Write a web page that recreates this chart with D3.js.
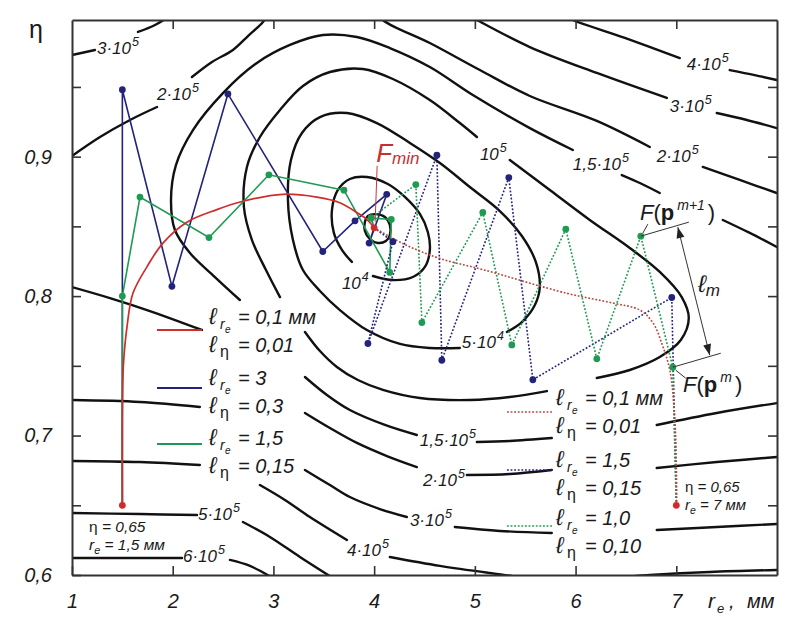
<!DOCTYPE html>
<html><head><meta charset="utf-8">
<script src="https://cdn.jsdelivr.net/npm/d3@7"></script>
<style>
body{margin:0;background:#fff}
svg{display:block}
text{font-family:"Liberation Sans",Arial,sans-serif;fill:#1a1a1a}
</style>
</head><body>
<svg id="c" width="800" height="630"></svg>
<script>
// ---------------- DATA ----------------
const xTickValues = [1,2,3,4,5,6,7];
const yTickValues = [0.6,0.65,0.7,0.75,0.8,0.85,0.9,0.95];
const yLabelled = [0.6,0.7,0.8,0.9];

// contour lines (r_e, eta) – segments, gaps are where labels / legend sit
const c5e3 = [[[3.908,0.8531],[3.938,0.8574],[4.017,0.8588],[4.107,0.8567],[4.156,0.8510],[4.156,0.8438],[4.117,0.8395],[4.037,0.8381],[3.958,0.8409],[3.908,0.8467]]];
const c1e4 = [[[3.988,0.8144],[4.186,0.8115],[4.385,0.8137],[4.504,0.8209],[4.553,0.8331],[4.533,0.8460],[4.454,0.8589],[4.305,0.8711],[4.136,0.8804],[3.928,0.8854],[3.759,0.8840],[3.640,0.8761],[3.581,0.8617],[3.600,0.8453],[3.680,0.8331],[3.779,0.8245]]];
const c5e4 = [[[5.318,0.7743],[5.467,0.7814],[5.596,0.7936],[5.645,0.8065],[5.605,0.8245],[5.467,0.8431],[5.248,0.8610],[4.950,0.8782],[4.653,0.8954],[4.355,0.9098],[4.027,0.9241],[3.730,0.9313],[3.462,0.9284],[3.283,0.9170],[3.174,0.8976],[3.144,0.8689],[3.194,0.8402],[3.293,0.8187],[3.462,0.8037],[3.660,0.7900],[3.928,0.7757],[4.256,0.7657],[4.553,0.7628],[4.851,0.7628]]];
const c1e5 = [
  [[5.347,0.8976],[5.744,0.8761],[6.141,0.8546],[6.538,0.8345],[6.836,0.8173],[7.054,0.7993],[7.124,0.7843],[7.045,0.7685],[6.836,0.7563],[6.538,0.7470],[6.211,0.7413]],
  [[5.715,0.7319],[5.347,0.7276],[4.950,0.7255],[4.454,0.7269],[4.087,0.7327],[3.839,0.7398],[3.630,0.7492],[3.462,0.7606],[3.313,0.7743]],
  [[3.065,0.7993],[2.926,0.8187],[2.787,0.8402],[2.707,0.8639],[2.737,0.8926],[2.866,0.9141],[3.065,0.9335],[3.293,0.9507],[3.561,0.9607],[3.888,0.9629],[4.186,0.9557],[4.553,0.9406],[4.851,0.9241],[5.020,0.9141]]
];
const c15e5 = [
  [[7.462,0.8546],[7.730,0.8453],[7.998,0.8352]],
  [[6.459,0.8868],[6.638,0.8811],[6.836,0.8739]],
  [[5.973,0.9048],[5.546,0.9205],[4.980,0.9442],[4.553,0.9643],[4.156,0.9779],[3.829,0.9858],[3.491,0.9872],[3.164,0.9801],[2.836,0.9672],[2.499,0.9456],[2.201,0.9191],[2.032,0.8940],[1.983,0.8689],[2.022,0.8474],[2.171,0.8309],[2.419,0.8137],[2.667,0.7972]],
  [[3.313,0.7420],[3.531,0.7291],[3.759,0.7183],[4.107,0.7076],[4.424,0.7004]],
  [[5.020,0.6954],[5.347,0.6961],[5.764,0.6982]],
  [[6.806,0.7076],[7.402,0.7162],[7.998,0.7233]]
];
const c2e5 = [
  [[1.0,0.8065],[1.377,0.7986],[1.774,0.7893],[2.290,0.7757]],
  [[3.313,0.7162],[3.561,0.7054],[3.829,0.6947],[4.127,0.6853],[4.424,0.6774]],
  [[4.921,0.6717],[5.347,0.6724],[5.764,0.6753]],
  [[6.806,0.6767],[7.402,0.6810],[7.998,0.6846]],
  [[1.0,0.9005],[1.278,0.9141],[1.576,0.9263],[1.844,0.9356]],
  [[2.191,0.9571],[2.390,0.9679],[2.598,0.9765],[2.747,0.9865],[2.896,0.9966],[2.945,1.0023]],
  [[4.037,1.0037],[4.087,0.998],[4.553,0.9815],[5.050,0.9621],[5.546,0.9435],[6.211,0.9256],[6.737,0.9069]],
  [[7.263,0.8926],[7.630,0.8833],[7.998,0.8739]]
];
const c3e5 = [
  [[1.0,0.9729],[1.228,0.9765]],
  [[1.655,0.9894],[1.824,0.9944],[1.973,1.0009]],
  [[4.911,1.0023],[5.020,0.998],[5.546,0.9786],[6.211,0.96],[6.906,0.9421]],
  [[7.402,0.9313],[7.700,0.9263],[7.998,0.9205]],
  [[1.0,0.7255],[1.675,0.7241],[2.270,0.7205]],
  [[3.313,0.6753],[3.561,0.6645],[3.759,0.6559],[4.057,0.6473],[4.325,0.6416]],
  [[4.801,0.6344],[5.248,0.6316],[5.764,0.6301]],
  [[6.806,0.6323],[7.402,0.6344],[7.998,0.6366]]
];
const c4e5 = [
  [[5.903,1.0009],[5.973,0.998],[6.489,0.9851],[7.035,0.9707]],
  [[7.531,0.9621],[7.779,0.9585],[7.998,0.955]],
  [[1.0,0.6818],[1.675,0.6810],[2.270,0.6789]],
  [[2.866,0.6645],[3.114,0.6538],[3.362,0.6416],[3.730,0.6251]],
  [[4.156,0.6129],[4.653,0.6065],[5.149,0.6014],[5.546,0.5978],[6.042,0.5964],[6.737,0.6],[7.333,0.6022],[7.998,0.6036]]
];
const c5e5 = [
  [[1.0,0.6445],[1.675,0.6437],[2.241,0.6430]],
  [[2.697,0.6380],[2.965,0.6273],[3.263,0.6129],[3.591,0.5978]]
];
const c6e5 = [
  [[1.0,0.6122],[2.092,0.6122]],
  [[2.568,0.6108],[2.767,0.6065],[2.995,0.5978]]
];
const contourSets = [
  {segs:c5e3, closed:true},{segs:c1e4},{segs:c5e4},{segs:c1e5},{segs:c15e5},
  {segs:c2e5},{segs:c3e5},{segs:c4e5},{segs:c5e5},{segs:c6e5}
];

// contour labels: mantissa, exponent, anchor (r_e, eta)
const contourLabels = [
  ["3·10","5",1.248,0.9736],["2·10","5",1.844,0.9406],["10","5",5.050,0.8976],
  ["1,5·10","5",5.973,0.8904],["2·10","5",6.806,0.8962],["3·10","5",6.935,0.9320],
  ["4·10","5",7.104,0.9621],["10","4",3.680,0.8051],["5·10","4",4.871,0.7628],
  ["1,5·10","5",4.454,0.6925],["2·10","5",4.484,0.6638],["3·10","5",4.355,0.6351],
  ["4·10","5",3.730,0.6136],["5·10","5",2.251,0.6394],["6·10","5",2.102,0.6093]
];

// optimisation trajectories (r_e, eta)
const fMin = [4.0,0.849];
const startLeft = [1.5,0.65];
const startRight = [7.0,0.65];
const redSolid = [[1.5,0.65],[1.5,0.72],[1.51,0.75],[1.546,0.778],[1.605,0.802],[1.744,0.821],[1.903,0.838],[2.141,0.853],[2.438,0.862],[2.696,0.868],[3.093,0.873],[3.431,0.871],[3.659,0.867],[3.827,0.860],[3.927,0.855],[4.0,0.849]];
const blueSolid = [[1.5,0.65],[1.5,0.948],[1.992,0.807],[2.548,0.945],[3.49,0.832],[3.81,0.854],[4.125,0.873],[3.95,0.838],[4.0,0.849]];
const greenSolid = [[1.5,0.65],[1.5,0.80],[1.675,0.871],[2.36,0.842],[2.955,0.887],[3.70,0.876],[4.155,0.817],[4.17,0.855],[3.97,0.856],[4.0,0.849]];
const redDotted = [[7.005,0.650],[6.995,0.697],[6.975,0.723],[6.936,0.747],[6.866,0.764],[6.767,0.781],[6.638,0.790],[6.370,0.795],[5.913,0.802],[5.079,0.819],[4.653,0.827],[4.305,0.837],[4.0,0.849]];
const blueDotted = [[7.0,0.65],[6.955,0.799],[5.576,0.740],[5.337,0.885],[4.672,0.754],[4.623,0.901],[3.938,0.766],[4.186,0.839],[4.0,0.849]];
const greenDotted = [[7.0,0.65],[6.965,0.749],[6.648,0.843],[6.211,0.755],[5.903,0.848],[5.367,0.765],[5.079,0.860],[4.474,0.781],[4.414,0.880],[3.97,0.856],[4.0,0.849]];

// legend entries
const legendLeft = [
  {col:"red", dash:false, lr:"0,1 мм", le:"0,01"},
  {col:"blue", dash:false, lr:"3", le:"0,3"},
  {col:"green", dash:false, lr:"1,5", le:"0,15"}
];
const legendRight = [
  {col:"redd", dash:true, lr:"0,1 мм", le:"0,01"},
  {col:"blue", dash:true, lr:"1,5", le:"0,15"},
  {col:"green", dash:true, lr:"1,0", le:"0,10"}
];

// ---------------- DRAW ----------------
const COL = {red:"#cc2e2b", redd:"#b8443c", blue:"#23237c", green:"#1e9a52"};
const svg = d3.select("#c");
const x = d3.scaleLinear().domain([1,8]).range([72,777]);
const y = d3.scaleLinear().domain([0.6,0.998]).range([575,20]);

svg.append("defs").append("clipPath").attr("id","clip")
  .append("rect").attr("x",72).attr("y",20).attr("width",705).attr("height",555);

const lineSmooth = d3.line().x(d=>x(d[0])).y(d=>y(d[1])).curve(d3.curveCatmullRom.alpha(0.5));
const lineClosed = d3.line().x(d=>x(d[0])).y(d=>y(d[1])).curve(d3.curveCatmullRomClosed.alpha(0.5));
const lineStraight = d3.line().x(d=>x(d[0])).y(d=>y(d[1]));

// contours
const cg = svg.append("g").attr("clip-path","url(#clip)");
contourSets.forEach(c=>{
  c.segs.forEach(s=>{
    cg.append("path").attr("d",(c.closed?lineClosed:lineSmooth)(s))
      .attr("fill","none").attr("stroke","#111").attr("stroke-width",2.4)
      .attr("stroke-linecap","round");
  });
});

// contour labels
const lg = svg.append("g");
contourLabels.forEach(([m,e,r,h])=>{
  const t = lg.append("text").attr("x",x(r)).attr("y",y(h))
    .attr("font-size",17).attr("font-style","italic");
  t.append("tspan").text(m);
  t.append("tspan").attr("font-size",12.5).attr("dy",-8).attr("dx",1).text(e);
});

// axes / frame
function styleAxis(g){
  g.select(".domain").attr("stroke","#333").attr("stroke-width",2);
  g.selectAll(".tick line").attr("stroke","#333").attr("stroke-width",1.6);
  g.selectAll(".tick text").attr("font-size",20).attr("font-style","italic")
    .attr("fill","#1a1a1a").attr("font-family","'Liberation Sans',Arial,sans-serif");
}
svg.append("g").attr("transform","translate(0,575)")
  .call(d3.axisBottom(x).tickValues(xTickValues).tickSizeInner(-9).tickSizeOuter(0).tickPadding(19).tickFormat(d=>d))
  .call(styleAxis);
svg.append("g").attr("transform","translate(0,20)")
  .call(d3.axisTop(x).tickValues(xTickValues.slice(1)).tickSizeInner(-9).tickSizeOuter(0).tickFormat(""))
  .call(styleAxis);
svg.append("g").attr("transform","translate(72,0)")
  .call(d3.axisLeft(y).tickValues(yTickValues).tickSizeInner(-9).tickSizeOuter(0).tickPadding(20)
    .tickFormat(d=>yLabelled.some(v=>Math.abs(v-d)<1e-9)?d.toFixed(1).replace(".",","):""))
  .call(styleAxis);
svg.append("g").attr("transform","translate(777,0)")
  .call(d3.axisRight(y).tickValues(yTickValues.slice(1)).tickSizeInner(-9).tickSizeOuter(0).tickFormat(""))
  .call(styleAxis);

// axis titles
svg.append("text").attr("x",29).attr("y",38).attr("font-size",25).text("η");
const xt = svg.append("g");
xt.append("text").attr("x",708).attr("y",608).attr("font-size",21).attr("font-style","italic").text("r");
xt.append("text").attr("x",717).attr("y",613).attr("font-size",13).attr("font-style","italic").text("e");
xt.append("text").attr("x",729).attr("y",608).attr("font-size",20).attr("font-style","italic").text(",");
xt.append("text").attr("x",747).attr("y",608).attr("font-size",20).attr("font-style","italic").text("мм");

// trajectories
const pg = svg.append("g");
function drawPath(data, col, dotted, smooth, w){
  pg.append("path").attr("d",(smooth?lineSmooth:lineStraight)(data))
    .attr("fill","none").attr("stroke",COL[col]).attr("stroke-width",w||1.6)
    .attr("stroke-dasharray",dotted?"1.8 1.8":null);
}
drawPath(blueSolid,"blue",false,false);
drawPath(greenSolid,"green",false,false);
drawPath(redSolid,"red",false,true,1.7);
drawPath(blueDotted,"blue",true,false);
drawPath(greenDotted,"green",true,false);
drawPath(redDotted,"redd",true,true);

function drawDots(data,col){
  pg.selectAll(null).data(data.slice(1,-1)).enter().append("circle")
    .attr("cx",d=>x(d[0])).attr("cy",d=>y(d[1])).attr("r",3.4).attr("fill",COL[col]);
}
drawDots(blueSolid,"blue");
drawDots(greenSolid,"green");
drawDots(blueDotted,"blue");
drawDots(greenDotted,"green");
[startLeft,startRight,fMin].forEach(p=>{
  pg.append("circle").attr("cx",x(p[0])).attr("cy",y(p[1])).attr("r",3.4).attr("fill","#d42a2a");
});

// F_min annotation
const fx = x(fMin[0]), fy = y(fMin[1]);
pg.append("line").attr("x1",fx+3).attr("y1",fy-62).attr("x2",fx+1).attr("y2",fy-6)
  .attr("stroke","#c8373a").attr("stroke-width",1);
const ft = pg.append("text").attr("x",fx+2).attr("y",fy-66).attr("fill","#c8302e");
ft.append("tspan").attr("font-size",26).attr("font-style","italic").attr("fill","#c8302e").text("F");
ft.append("tspan").attr("font-size",17).attr("font-style","italic").attr("dy",2).attr("fill","#c8302e").text("min");

// F(p^m), F(p^{m+1}) annotation
const pm = greenDotted[1], pm1 = greenDotted[2];
const a = [x(pm1[0]),y(pm1[1])], b = [x(pm[0]),y(pm[1])];
const ann = svg.append("g");
ann.append("line").attr("x1",a[0]).attr("y1",a[1]).attr("x2",a[0]+48).attr("y2",a[1]-14).attr("stroke","#333").attr("stroke-width",1);
ann.append("line").attr("x1",b[0]).attr("y1",b[1]).attr("x2",b[0]+48).attr("y2",b[1]-14).attr("stroke","#333").attr("stroke-width",1);
ann.append("line").attr("x1",a[0]+2).attr("y1",a[1]-3).attr("x2",a[0]+7).attr("y2",a[1]-12).attr("stroke","#333").attr("stroke-width",1);
ann.append("line").attr("x1",b[0]+3).attr("y1",b[1]+3).attr("x2",b[0]+13).attr("y2",b[1]+11).attr("stroke","#333").attr("stroke-width",1);
// double arrow
const p1=[a[0]+37,a[1]-9], p2=[b[0]+37,b[1]-12];
ann.append("line").attr("x1",p1[0]).attr("y1",p1[1]).attr("x2",p2[0]).attr("y2",p2[1]).attr("stroke","#333").attr("stroke-width",1);
function head(tip, from){
  const ang=Math.atan2(tip[1]-from[1],tip[0]-from[0]), L=11, Wd=4;
  const bx=tip[0]-L*Math.cos(ang), by=tip[1]-L*Math.sin(ang);
  const nx=-Math.sin(ang)*Wd, ny=Math.cos(ang)*Wd;
  ann.append("path").attr("d",`M${tip[0]},${tip[1]}L${bx+nx},${by+ny}L${bx-nx},${by-ny}Z`).attr("fill","#222");
}
head(p1,p2); head(p2,p1);
const lm = ann.append("text").attr("x",698).attr("y",292);
lm.append("tspan").attr("font-size",24).attr("font-style","italic").text("ℓ");
lm.append("tspan").attr("font-size",17).attr("font-style","italic").attr("dy",4).text("m");
function fp(xp,yp,sup){
  const t = ann.append("text").attr("x",xp).attr("y",yp).attr("font-size",22);
  t.append("tspan").attr("font-style","italic").text("F");
  t.append("tspan").text("(");
  t.append("tspan").attr("font-weight","bold").text("p");
  t.append("tspan").attr("font-size",14).attr("font-style","italic").attr("dy",-10).attr("dx",3).text(sup);
  t.append("tspan").attr("dy",10).attr("dx",3).text(")");
}
fp(640,220,"m+1");
fp(683,392,"m");

// start point annotations
function startNote(xp,yp,rtext,fs){
  const t1 = svg.append("text").attr("x",xp).attr("y",yp).attr("font-size",fs);
  t1.append("tspan").text("η");
  t1.append("tspan").attr("font-style","italic").text(" = 0,65");
  const t2 = svg.append("text").attr("x",xp).attr("y",yp+18).attr("font-size",fs).attr("font-style","italic");
  t2.append("tspan").text("r");
  t2.append("tspan").attr("font-size",fs*0.7).attr("dy",4).text("e");
  t2.append("tspan").attr("dy",-4).text(" = "+rtext);
}
startNote(89,532,"1,5 мм",15.5);
startNote(685,492,"7 мм",15);

// legends
function legend(entries, lx0, lx1, tx, lineYs, baseYs){
  entries.forEach((e,i)=>{
    svg.append("line").attr("x1",lx0).attr("x2",lx1).attr("y1",lineYs[i]).attr("y2",lineYs[i])
      .attr("stroke",COL[e.col]).attr("stroke-width",e.dash?1.6:1.8)
      .attr("stroke-dasharray",e.dash?"1.8 1.8":null);
    const b1 = baseYs[i], b2 = baseYs[i]+28;
    svg.append("text").attr("x",tx).attr("y",b1).attr("font-size",23).attr("font-style","italic").text("ℓ");
    svg.append("text").attr("x",tx+11).attr("y",b1+5).attr("font-size",14).attr("font-style","italic").text("r");
    svg.append("text").attr("x",tx+16).attr("y",b1+9).attr("font-size",10).attr("font-style","italic").text("e");
    svg.append("text").attr("x",tx+29).attr("y",b1).attr("font-size",20).attr("font-style","italic").text("= "+e.lr);
    svg.append("text").attr("x",tx).attr("y",b2).attr("font-size",23).attr("font-style","italic").text("ℓ");
    svg.append("text").attr("x",tx+11).attr("y",b2+5).attr("font-size",16).text("η");
    svg.append("text").attr("x",tx+29).attr("y",b2).attr("font-size",20).attr("font-style","italic").text("= "+e.le);
  });
}
legend(legendLeft,157,202,209,[330,388,444],[324,385,445]);
legend(legendRight,507,552,556,[412,470,526],[405,467,525]);
</script>
</body></html>
